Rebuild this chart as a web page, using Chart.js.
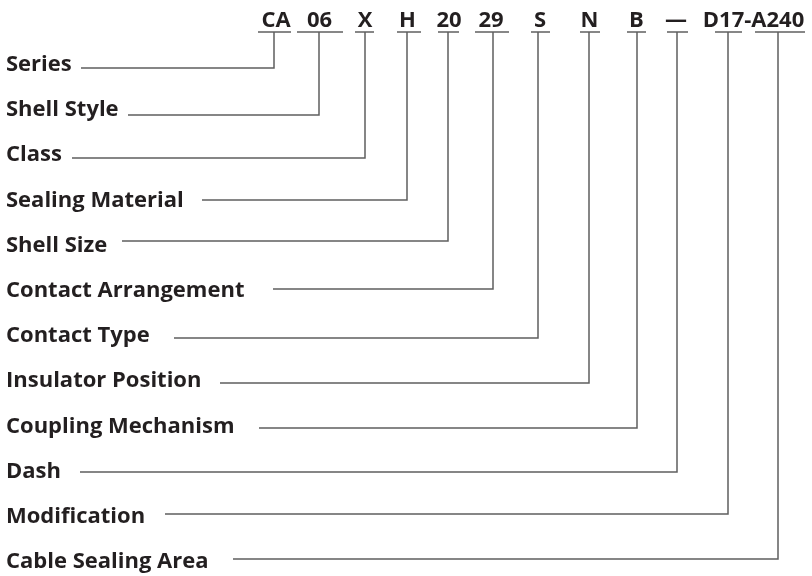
<!DOCTYPE html>
<html>
<head>
<meta charset="utf-8">
<script src="https://cdn.jsdelivr.net/npm/chart.js@4.4.1/dist/chart.umd.min.js"></script>
<style>
    body { margin: 0; background: #fff; }
</style>
</head>
<body>
<canvas id="myChart" width="812" height="576"></canvas>
<script>
// part number pieces, left to right
let codes = ['CA', '06', 'X', 'H', '20', '29', 'S', 'N', 'B', '\u2014', 'D17-A240'];
let codeCenter = [276, 319.5, 365, 407.5, 449, 491, 540, 589.5, 636.5, 676, 753.5];

// one entry per field (label, leader height, leader start, drop point, underline)
let fields = ['Series', 'Shell Style', 'Class', 'Sealing Material', 'Shell Size', 'Contact Arrangement',
    'Contact Type', 'Insulator Position', 'Coupling Mechanism', 'Dash', 'Modification', 'Cable Sealing Area'];
let leaderY = [68, 115, 158, 200, 241, 289, 338, 383, 428, 472, 514, 559];
let leaderFrom = [81, 128, 72, 202, 122, 273, 174, 220, 259, 80, 165, 233];
let leaderTo = [274, 319, 365, 407, 448, 493, 538, 589, 637, 677, 728, 778];
let underlineFrom = [258, 297, 355, 397, 438, 475, 531, 580, 627, 667, 715, 755];
let underlineTo = [291, 343, 374, 421, 459, 509, 550, 600, 646, 688, 742, 805];
let underlineY = 32;

const lineColor = '#5f5f5f';
const textColor = '#231f20';
const font = 'bold 22px "Open Sans", sans-serif';

let datasets = [];
fields.forEach((f, i) => {
    datasets.push({
        label: f,
        data: [
            { x: leaderFrom[i], y: leaderY[i] },
            { x: leaderTo[i], y: leaderY[i] },
            { x: leaderTo[i], y: underlineY }
        ]
    });
    datasets.push({
        label: f + ' underline',
        data: [
            { x: underlineFrom[i], y: underlineY },
            { x: underlineTo[i], y: underlineY }
        ]
    });
});
datasets.forEach(d => {
    d.showLine = true;
    d.borderColor = lineColor;
    d.borderWidth = 1.5;
    d.pointRadius = 0;
    d.fill = false;
    d.tension = 0;
    d.borderJoinStyle = 'miter';
});

const textPlugin = {
    id: 'texts',
    afterDatasetsDraw(chart) {
        let ctx = chart.ctx;
        let xs = chart.scales.x;
        let ys = chart.scales.y;
        ctx.save();
        ctx.font = font;
        ctx.fillStyle = textColor;
        ctx.textBaseline = 'alphabetic';
        ctx.textAlign = 'center';
        codes.forEach((c, i) => {
            ctx.fillText(c, xs.getPixelForValue(codeCenter[i]), ys.getPixelForValue(27));
        });
        ctx.textAlign = 'left';
        fields.forEach((f, i) => {
            ctx.fillText(f, xs.getPixelForValue(6), ys.getPixelForValue(71 + i * 45.2));
        });
        ctx.restore();
    }
};

let ctx = document.getElementById('myChart').getContext('2d');
let myChart = new Chart(ctx, {
    type: 'scatter',
    data: { datasets: datasets },
    options: {
        responsive: false,
        animation: false,
        layout: { padding: 0 },
        plugins: {
            legend: { display: false },
            tooltip: { enabled: false }
        },
        scales: {
            x: { type: 'linear', min: 0, max: 812, display: false },
            y: { type: 'linear', min: 0, max: 576, reverse: true, display: false }
        }
    },
    plugins: [textPlugin]
});
</script>
</body>
</html>
